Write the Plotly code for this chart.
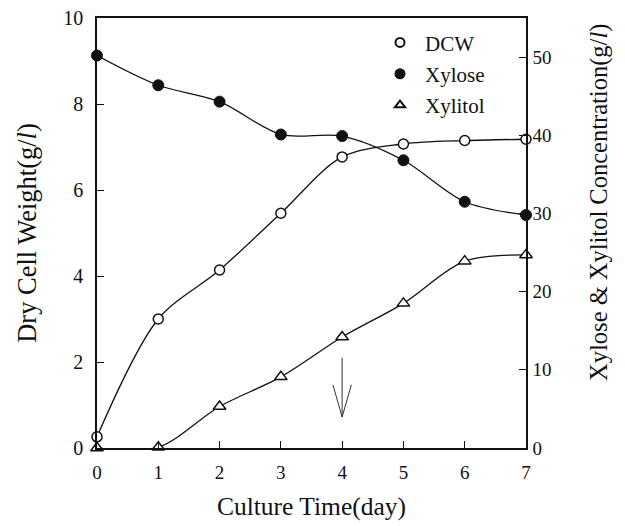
import plotly.graph_objects as go

days = [0, 1, 2, 3, 4, 5, 6, 7]
dcw = [0.26, 3.0, 4.14, 5.46, 6.77, 7.07, 7.15, 7.18]          # g/l, left axis
xylose = [50.2, 46.4, 44.3, 40.1, 39.9, 36.8, 31.5, 29.8]     # g/l, right axis
xylitol = [0.0, 0.1, 5.3, 9.1, 14.2, 18.5, 23.9, 24.7]        # g/l, right axis

x_ticks = [0, 1, 2, 3, 4, 5, 6, 7]
y1_ticks = [0, 2, 4, 6, 8, 10]
y2_ticks = [0, 10, 20, 30, 40, 50]

# arrow marking day 4 (left-axis units)
arrow_day = 4
arrow_top, arrow_tip = 2.1, 0.72

FONT = "Liberation Serif"
BLACK = "#111111"

fig = go.Figure()

line_style = dict(color=BLACK, width=1.3, shape="spline", smoothing=0.9)

fig.add_trace(go.Scatter(
    x=days, y=dcw, mode="lines+markers", name="DCW", showlegend=False,
    line=line_style, cliponaxis=False,
    marker=dict(symbol="circle", size=10, color="white", line=dict(color=BLACK, width=1.5)),
))
fig.add_trace(go.Scatter(
    x=days, y=xylose, mode="lines+markers", name="Xylose", showlegend=False,
    yaxis="y2", line=line_style, cliponaxis=False,
    marker=dict(symbol="circle", size=11, color=BLACK, line=dict(color=BLACK, width=1)),
))
fig.add_trace(go.Scatter(
    x=days, y=xylitol, mode="lines+markers", name="Xylitol", showlegend=False,
    yaxis="y2", line=line_style, cliponaxis=False,
    marker=dict(symbol="triangle-up", size=11, color="white", line=dict(color=BLACK, width=1.5)),
))

# legend entries (markers only)
fig.add_trace(go.Scatter(x=[None], y=[None], mode="markers", name="DCW", legendgroup="a",
                         marker=dict(symbol="circle", size=9, color="white", line=dict(color=BLACK, width=2))))
fig.add_trace(go.Scatter(x=[None], y=[None], mode="markers", name="Xylose", legendgroup="b",
                         marker=dict(symbol="circle", size=11, color=BLACK)))
fig.add_trace(go.Scatter(x=[None], y=[None], mode="markers", name="Xylitol", legendgroup="c",
                         marker=dict(symbol="triangle-up", size=9, color="white", line=dict(color=BLACK, width=2))))

# thin open arrow at day 4
arrow_line = dict(color="#333333", width=1)
head_w, head_h = 0.15, 0.75
fig.add_shape(type="line", xref="x", yref="y", x0=arrow_day, x1=arrow_day,
              y0=arrow_top, y1=arrow_tip, line=arrow_line)
fig.add_shape(type="line", xref="x", yref="y", x0=arrow_day - head_w, x1=arrow_day,
              y0=arrow_tip + head_h, y1=arrow_tip, line=arrow_line)
fig.add_shape(type="line", xref="x", yref="y", x0=arrow_day + head_w, x1=arrow_day,
              y0=arrow_tip + head_h, y1=arrow_tip, line=arrow_line)

# right axis title (placed as annotation so it can sit slightly above centre, like the original)
fig.add_annotation(text="Xylose &amp; Xylitol Concentration(g/<i>l</i>)", xref="paper", yref="paper",
                   x=1, y=0.57, xanchor="center", yanchor="middle", xshift=73, textangle=-90,
                   showarrow=False, font=dict(size=24.5, family=FONT, color=BLACK))

fig.update_layout(
    width=625, height=526,
    margin=dict(l=89, r=107, t=10, b=86),
    paper_bgcolor="white", plot_bgcolor="white",
    font=dict(family=FONT, size=19, color=BLACK),
    showlegend=True,
    legend=dict(x=0.648, y=0.99, xanchor="left", yanchor="top",
                bgcolor="rgba(0,0,0,0)", font=dict(size=21, family=FONT),
                tracegroupgap=1, itemwidth=40),
    xaxis=dict(
        range=[0, 7], tickvals=x_ticks, ticktext=[str(v) for v in x_ticks],
        showline=True, linecolor=BLACK, linewidth=1.6, mirror=True,
        ticks="inside", ticklen=7, tickwidth=1.3, tickcolor=BLACK,
        showgrid=False, zeroline=False, automargin=False, ticklabelstandoff=6,
        ticklabeloverflow="allow",
        title=dict(text="Culture Time(day)", font=dict(size=25.5), standoff=16),
        tickfont=dict(size=19),
    ),
    yaxis=dict(
        range=[0, 10], tickvals=y1_ticks,
        showline=True, linecolor=BLACK, linewidth=1.6,
        ticks="inside", ticklen=7, tickwidth=1.3, tickcolor=BLACK,
        showgrid=False, zeroline=False, ticklabelstandoff=8, automargin=False,
        ticklabeloverflow="allow",
        title=dict(text="Dry Cell Weight(g/<i>l</i>)", font=dict(size=26.5), standoff=19),
        tickfont=dict(size=20),
    ),
    yaxis2=dict(
        range=[0, 55], tickvals=y2_ticks, overlaying="y", side="right",
        showline=True, linecolor=BLACK, linewidth=1.6,
        ticks="inside", ticklen=7, tickwidth=1.3, tickcolor=BLACK,
        showgrid=False, zeroline=False, ticklabelstandoff=1, automargin=False,
        ticklabeloverflow="allow",
        tickfont=dict(size=19),
    ),
)

fig.write_html("out.html")
